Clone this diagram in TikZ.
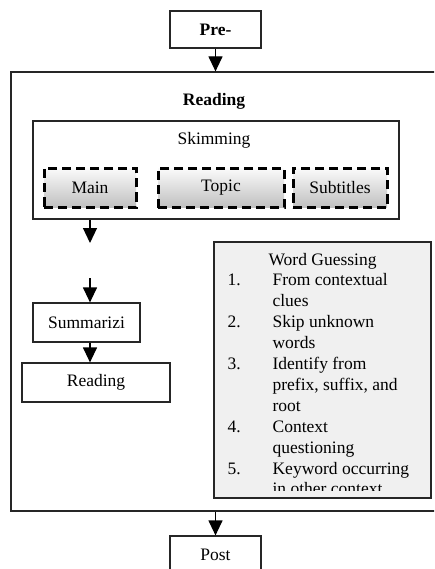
\documentclass[tikz,border=0pt]{standalone}
\usepackage{fontspec}
\setmainfont{Liberation Serif}
\usetikzlibrary{positioning,arrows.meta}

\newcommand\diagfont{\fontsize{17.5}{20.9}\selectfont}

\begin{document}
\begin{tikzpicture}[x=1pt, y=-1pt, line width=1.2pt, >={Triangle[width=14pt,length=15pt]},
   every node/.style={font=\diagfont, inner sep=0pt}]
   \tikzset{
     box/.style={draw=black!85, fill=white},
     dashbox/.style={draw=black, line width=3pt, dash pattern=on 9pt off 5pt,
       top color=gray!4, bottom color=gray!50, minimum height=39pt}
   }
\useasboundingbox (0,0) rectangle (434,569);
\clip (0,0) rectangle (434,569);

% outer reading stage
\node[box, minimum width=434pt, minimum height=439pt] (stage) at (228,291.5) {};
\node[font=\diagfont\bfseries] (readtitle) at (214,101) {Reading};

% pre and post
\node[box, minimum width=91pt, minimum height=37pt, font=\diagfont\bfseries] (pre) at (215.5,29.5) {Pre-};
\node[box, minimum width=91pt, minimum height=38pt] (post) at (215.5,555) {Post};

% skimming
\node[box, minimum width=366pt, minimum height=98pt] (skim) at (216,170) {};
\node (skimtitle) at (214,140) {Skimming};
\node[dashbox, minimum width=92pt]  (main)   at (90,188)  {Main};
\node[dashbox, minimum width=126pt] (topic)  at (221,188) {Topic};
\node[dashbox, minimum width=94pt]  (subt)   at (340,188) {Subtitles};

% left column
\node[box, minimum width=107pt, minimum height=39pt] (summ)  at (86.5,322.5) {Summarizi};
\node[box, minimum width=148pt, minimum height=39pt] (read2) at (96,382.5) {Reading};

% word guessing
\node[box, fill=gray!12, minimum width=217pt, minimum height=256pt] (guess) at (322.5,370) {};
\begin{scope}
  \clip (guess.north west) rectangle (431,490);
  \node[anchor=base west] (guesslist) at (227,265) {%
    \begin{tabular}[t]{@{}p{45pt}@{}l@{}}
      \multicolumn{2}{@{\hspace{41pt}}l@{}}{Word Guessing}\\
      1. & From contextual\\
         & clues\\
      2. & Skip unknown\\
         & words\\
      3. & Identify from\\
         & prefix, suffix, and\\
         & root\\
      4. & Context\\
         & questioning\\
      5. & Keyword occurring\\
         & in other context
    \end{tabular}};
\end{scope}

% connectors
\coordinate (skimend) at (90,243);
\coordinate (summstart) at (90,278);
\draw[->] (pre) -- (pre.south |- stage.north);
\draw[->] (skim.south -| skimend) -- (skimend);
\draw[->] (summstart) -- (summstart |- summ.north);
\draw[->] (summ.south -| summstart) -- (summstart |- read2.north);
\draw[->] (pre.south |- stage.south) -- (post);
\end{tikzpicture}
\end{document}
